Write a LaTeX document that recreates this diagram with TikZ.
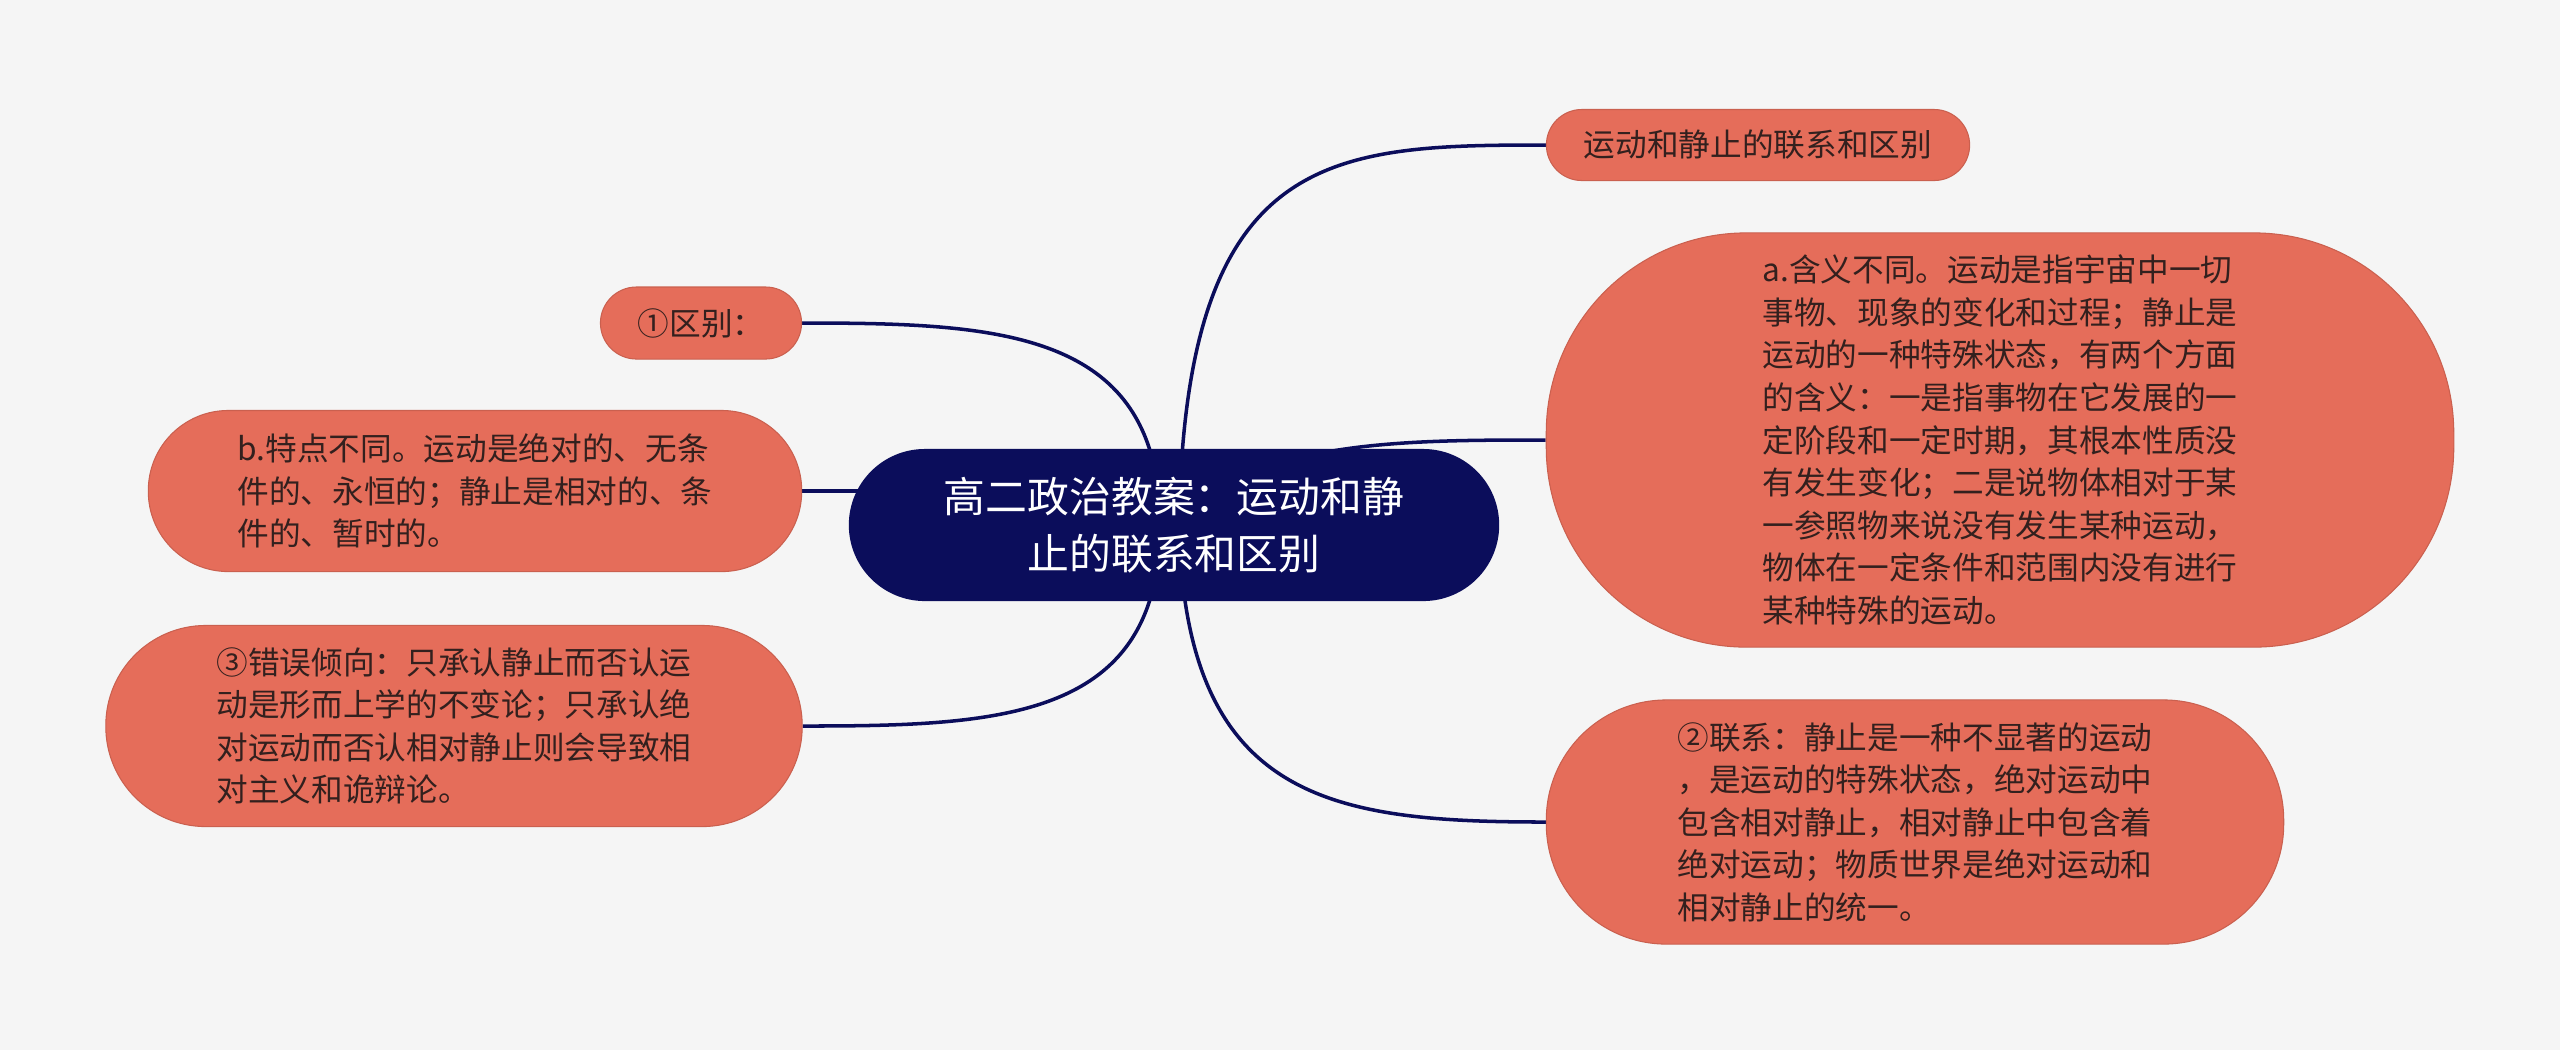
\documentclass[tikz,border=0pt]{standalone}
\usepackage{fontspec}
\setmainfont{Noto Sans CJK SC}
\usetikzlibrary{positioning}
\definecolor{navy}{HTML}{0B0D5B}
\definecolor{salmon}{HTML}{E56D5A}
\definecolor{leaftext}{HTML}{33201E}
\definecolor{paper}{HTML}{F5F5F5}
\pgfdeclarelayer{bg}
\pgfdeclarelayer{lines}
\pgfsetlayers{bg,lines,main}

\begin{document}
\begin{tikzpicture}[
  x=0.01cm, y=-0.01cm,
  leaf/.style={draw=salmon!88!black, line width=0.3pt, fill=salmon, text=leaftext,
    inner sep=0pt, align=left, font=\fontsize{9}{12.1}\selectfont},
  hub/.style={fill=navy, text=white, inner sep=0pt, align=center,
    minimum width=6.5cm, minimum height=1.52cm, rounded corners=0.76cm,
    font=\fontsize{11.9}{16.2}\selectfont},
  link/.style={draw=navy, line width=1pt}
]
\useasboundingbox (0,0) rectangle (2560,1050);
\begin{pgfonlayer}{bg}
  \fill[paper] (0,0) rectangle (2560,1050);
\end{pgfonlayer}

\node[hub] (hub) at (1174,525) {高二政治教案：运动和静\\止的联系和区别};

% right side
\node[leaf, minimum width=4.23cm, minimum height=0.71cm, rounded corners=0.355cm]
  (topic) at (1758,145) {运动和静止的联系和区别};
\node[leaf, minimum width=9.07cm, minimum height=4.14cm, rounded corners=2cm]
  (meaning) at (2000,440) {a.含义不同。运动是指宇宙中一切\\事物、现象的变化和过程；静止是\\运动的一种特殊状态，有两个方面\\的含义：一是指事物在它发展的一\\定阶段和一定时期，其根本性质没\\有发生变化；二是说物体相对于某\\一参照物来说没有发生某种运动，\\物体在一定条件和范围内没有进行\\某种特殊的运动。};
\node[leaf, minimum width=7.37cm, minimum height=2.44cm, rounded corners=1.2cm]
  (relation) at (1915,822) {②联系：静止是一种不显著的运动\\，是运动的特殊状态，绝对运动中\\包含相对静止，相对静止中包含着\\绝对运动；物质世界是绝对运动和\\相对静止的统一。};

% left side
\node[leaf, minimum width=2.01cm, minimum height=0.72cm, rounded corners=0.36cm]
  (diff) at (701,323) {①区别：};
\node[leaf, minimum width=6.53cm, minimum height=1.61cm, rounded corners=0.8cm]
  (trait) at (475,491) {b.特点不同。运动是绝对的、无条\\件的、永恒的；静止是相对的、条\\件的、暂时的。};
\node[leaf, minimum width=6.96cm, minimum height=2.01cm, rounded corners=1cm]
  (error) at (454,726) {③错误倾向：只承认静止而否认运\\动是形而上学的不变论；只承认绝\\对运动而否认相对静止则会导致相\\对主义和诡辩论。};

\begin{pgfonlayer}{lines}
  \coordinate (hubR) at (1179,525);
  \coordinate (hubL) at (1160,525);
  \draw[link] (hubR) .. controls (1185,150) and (1330,145) .. (topic.west);
  \draw[link] (hubR) .. controls (1250,440) and (1400,440) .. (meaning.west);
  \draw[link] (hubR) .. controls (1185,800) and (1330,822) .. (relation.west);
  \draw[link] (hubL) .. controls (1160,330) and (1000,323) .. (diff.east);
  \draw[link] (trait.east) -- (trait.east -| hubL);
  \draw[link] (hubL) .. controls (1160,720) and (1000,726) .. (error.east);
\end{pgfonlayer}
\end{tikzpicture}
\end{document}
